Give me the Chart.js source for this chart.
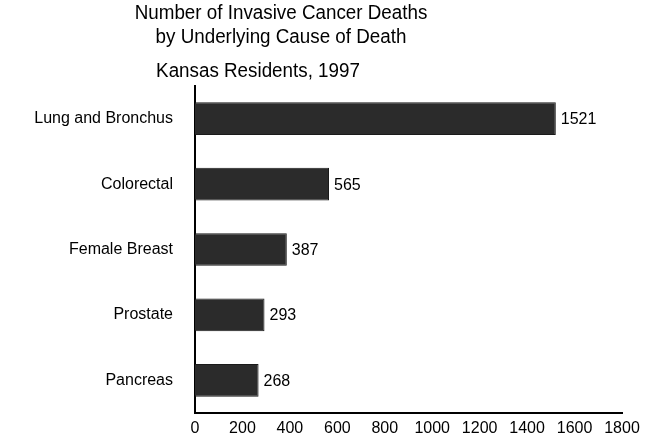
<!DOCTYPE html>
<html>
<head>
<meta charset="utf-8">
<script src="https://cdn.jsdelivr.net/npm/chart.js@4"></script>
<style>
  html, body { margin: 0; padding: 0; background: #fff; overflow: hidden; }
  canvas { display: block; }
</style>
</head>
<body>
<canvas id="chart" width="652" height="438"></canvas>
<script>
const causes = ["Lung and Bronchus", "Colorectal", "Female Breast", "Prostate", "Pancreas"];
const deaths = [1521, 565, 387, 293, 268];
const xTicks = [0, 200, 400, 600, 800, 1000, 1200, 1400, 1600, 1800];

const titleLines = ["Number of Invasive Cancer Deaths", "by Underlying Cause of Death"];
const subTitle = "Kansas Residents, 1997";

const FONT = "'Liberation Sans', Arial, sans-serif";

// value labels to the right of each bar
const valueLabels = {
  id: "valueLabels",
  afterDatasetsDraw(chart) {
    const ctx = chart.ctx;
    const meta = chart.getDatasetMeta(0);
    ctx.save();
    ctx.font = "16px " + FONT;
    ctx.fillStyle = "#000";
    ctx.textBaseline = "middle";
    ctx.textAlign = "left";
    meta.data.forEach((bar, i) => {
      ctx.fillText(deaths[i], bar.x + 5, bar.y + 1);
    });
    ctx.restore();
  }
};

// titles sit left of the canvas center in the original, slightly narrow
function drawNarrow(ctx, text, cx, y) {
  ctx.save();
  ctx.translate(cx, y);
  ctx.scale(0.94, 1);
  ctx.fillText(text, 0, 0);
  ctx.restore();
}

const titles = {
  id: "titles",
  afterDraw(chart) {
    const ctx = chart.ctx;
    ctx.save();
    ctx.font = "20px " + FONT;
    ctx.fillStyle = "#000";
    ctx.textAlign = "center";
    ctx.textBaseline = "alphabetic";
    drawNarrow(ctx, titleLines[0], 281, 19);
    drawNarrow(ctx, titleLines[1], 281, 43);
    drawNarrow(ctx, subTitle, 258, 77);
    ctx.restore();
  }
};

new Chart(document.getElementById("chart"), {
  type: "bar",
  data: {
    labels: causes,
    datasets: [{
      data: deaths,
      backgroundColor: "#2b2b2b",
      borderColor: "#1a1a1a",
      borderWidth: 1,
      barPercentage: 0.5,
      categoryPercentage: 1.0
    }]
  },
  options: {
    indexAxis: "y",
    responsive: false,
    animation: false,
    layout: { padding: { top: 86, right: 30, left: 0, bottom: 0 } },
    plugins: {
      legend: { display: false },
      tooltip: { enabled: false }
    },
    scales: {
      x: {
        min: 0,
        max: 1800,
        afterBuildTicks: axis => { axis.ticks = xTicks.map(v => ({ value: v })); },
        afterFit: axis => { axis.height = 25; },
        grid: { display: false, drawTicks: false },
        border: { display: true, color: "#000", width: 2 },
        ticks: {
          color: "#000",
          padding: 6,
          maxRotation: 0,
          autoSkip: false,
          callback: v => String(v),
          font: { family: FONT, size: 16 }
        }
      },
      y: {
        // drop the half-label padding so the plot reaches down to the x axis
        afterFit: axis => { axis.width = 195; axis.paddingTop = 0; axis.paddingBottom = 0; },
        grid: { display: false, drawTicks: false },
        border: { display: true, color: "#000", width: 2 },
        ticks: {
          color: "#000",
          padding: 22,
          font: { family: FONT, size: 16 }
        }
      }
    }
  },
  plugins: [valueLabels, titles]
});
</script>
</body>
</html>
